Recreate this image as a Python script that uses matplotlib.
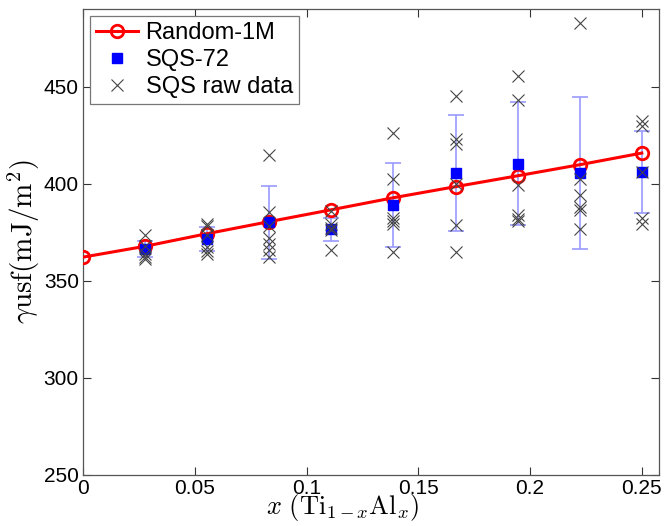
import numpy as np
import matplotlib
matplotlib.use("Agg")
import matplotlib.pyplot as plt

plt.rcParams['font.family'] = ['Liberation Sans', 'DejaVu Sans']
plt.rcParams['mathtext.fontset'] = 'cm'

# Random-1M (fit line)
x_rand = [0, 1/36, 2/36, 3/36, 4/36, 5/36, 6/36, 7/36, 8/36, 9/36]
y_rand = [362.2, 367.8, 374.3, 380.5, 386.6, 392.8, 398.5, 404.1, 409.8, 415.8]

# SQS-72 averages and std
x_sqs = [1/36, 2/36, 3/36, 4/36, 5/36, 6/36, 7/36, 8/36, 9/36]
y_sqs = [366.3, 371.5, 380.2, 376.6, 389.0, 405.4, 410.4, 405.5, 406.2]
err_sqs = [4.2, 6.3, 18.7, 5.9, 21.8, 29.9, 31.6, 39.0, 21.2]

# SQS raw data
raw = {
    1/36: [373.5, 368.0, 364.0, 362.3, 361.0],
    2/36: [379.5, 378.0, 373.5, 367.2, 365.5, 364.0],
    3/36: [415.0, 385.2, 378.4, 372.3, 368.9, 365.8, 362.4],
    4/36: [386.1, 379.2, 377.0, 376.0, 365.8],
    5/36: [425.9, 402.4, 382.3, 380.6, 379.2, 364.6],
    6/36: [445.0, 423.0, 420.4, 400.0, 378.9, 364.6],
    7/36: [455.6, 443.2, 399.6, 384.0, 382.0, 380.9],
    8/36: [483.0, 402.4, 394.3, 388.1, 386.4, 376.6],
    9/36: [432.1, 429.9, 406.2, 382.6, 379.5],
}
x_raw = []
y_raw = []
for k in raw:
    for v in raw[k]:
        x_raw.append(k)
        y_raw.append(v)

fig = plt.figure(figsize=(6.64, 5.26), dpi=100)
ax = fig.add_axes([83/664, 1 - 475/526, (659 - 83)/664, (475 - 9)/526])

ax.plot(x_rand, y_rand, '-o', color='red', lw=2.2, ms=9, mfc='none', mew=2,
        label='Random-1M', zorder=3)
ax.errorbar(x_sqs, y_sqs, yerr=err_sqs, fmt='none', ecolor='#9a9aff',
            elinewidth=1.2, capsize=6, capthick=1.2, zorder=2)
ax.plot(x_sqs, y_sqs, 's', color='blue', ms=7.5, label='SQS-72', zorder=4)
ax.plot(x_raw, y_raw, 'x', color='#444444', ms=8, mew=0.8,
        label='SQS raw data', zorder=5)

ax.set_xlim(0, 0.2577)
ax.set_ylim(250, 490)
ax.set_xticks([0, 0.05, 0.1, 0.15, 0.2, 0.25])
ax.set_xticklabels(['0', '0.05', '0.1', '0.15', '0.2', '0.25'])
ax.set_yticks([250, 300, 350, 400, 450])
ax.tick_params(direction='in', top=True, right=True, length=6, width=0.8,
               labelsize=15, color='#333333', pad=3)
for s in ax.spines.values():
    s.set_color('#555555')
    s.set_linewidth(0.9)

ax.set_xlabel(r'$x\ (\mathrm{Ti}_{1-x}\mathrm{Al}_x)$', fontsize=19)
ax.xaxis.set_label_coords(0.45, -0.036, transform=ax.transAxes)
ax.xaxis.label.set_va('top')
ax.set_ylabel(r'$\gamma\mathrm{usf}(\mathrm{mJ/m^2})$', fontsize=21)
ax.yaxis.set_label_coords(-0.072, 0.5)

leg = ax.legend(loc='upper left', fontsize=17, borderaxespad=0.3,
                fancybox=False, edgecolor='#777777', framealpha=1,
                handlelength=1.8, handletextpad=0.3, labelspacing=0.22,
                borderpad=0.25)
leg.get_frame().set_linewidth(0.9)

fig.savefig('out.png', dpi=100)
